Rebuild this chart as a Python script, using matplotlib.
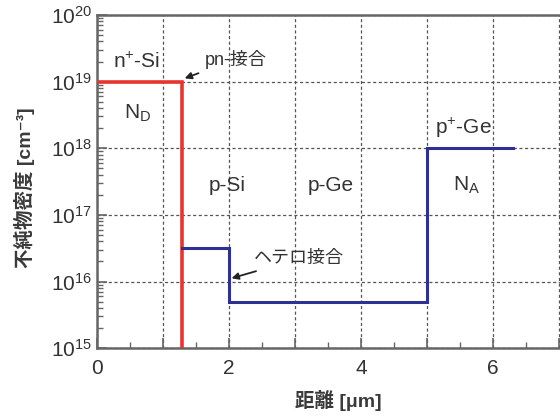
import matplotlib
matplotlib.use("Agg")
import matplotlib.pyplot as plt
from matplotlib.ticker import LogLocator, NullFormatter, MultipleLocator

plt.rcParams['font.family'] = ['Liberation Sans', 'Noto Sans CJK JP', 'DejaVu Sans']
plt.rcParams['mathtext.fontset'] = 'custom'
plt.rcParams['mathtext.rm'] = 'Liberation Sans'
plt.rcParams['mathtext.it'] = 'Liberation Sans:italic'

# data
nd_x = [0, 1.29, 1.29]
nd_y = [1e19, 1e19, 1.05e15]
na_x = [1.29, 2.0, 2.0, 5.0, 5.0, 6.3]
na_y = [3.2e16, 3.2e16, 5e15, 5e15, 1e18, 1e18]
x_major = [0, 1, 2, 3, 4, 5, 6, 7, 8]
x_labels = ['0', '', '2', '', '4', '', '6', '', '']
y_ticks = [1e15, 1e16, 1e17, 1e18, 1e19, 1e20]
y_labels = ['$10^{15}$', '$10^{16}$', '$10^{17}$', '$10^{18}$', '$10^{19}$', '$10^{20}$']

fig = plt.figure(figsize=(5.6, 4.16), dpi=100)
ax = fig.add_axes([0.173, 0.163, 0.943, 0.801])
axc = '#666666'
ax.plot(nd_x, nd_y, color='#e8342c', lw=2.6, solid_joinstyle='miter', zorder=3)
ax.plot(na_x, na_y, color='#2e3192', lw=2.2, solid_joinstyle='miter', zorder=3)

ax.set_yscale('log')
ax.set_xlim(0, 8)
ax.set_ylim(1e15, 1e20)
ax.set_xticks(x_major)
ax.set_xticklabels(x_labels)
ax.xaxis.set_minor_locator(MultipleLocator(0.5))
ax.set_yticks(y_ticks)
ax.set_yticklabels(y_labels)
ax.yaxis.set_minor_locator(LogLocator(base=10, subs=range(2, 10)))
ax.yaxis.set_minor_formatter(NullFormatter())
ax.grid(True, which='major', ls=(0, (2.5, 2)), color='#555555', lw=0.9)
ax.tick_params(which='both', direction='in', colors=axc, labelcolor='#333333', labelsize=15)
ax.tick_params(which='major', length=7, width=1.2)
ax.tick_params(which='minor', length=4, width=1)
ax.tick_params(axis='x', pad=8)
for s in ax.spines.values():
    s.set_color(axc)
    s.set_linewidth(1.8)

tc = '#333333'
fs = 15
ax.text(0.6, 1.95e19, 'n$^{+}$-Si', fontsize=fs, ha='center', va='center', color=tc)
ax.text(0.62, 3.3e18, 'N$_{\\rm D}$', fontsize=fs, ha='center', va='center', color=tc)
ax.text(1.97, 2.8e17, 'p-Si', fontsize=fs, ha='center', va='center', color=tc)
ax.text(3.55, 2.8e17, 'p-Ge', fontsize=fs, ha='center', va='center', color=tc)
ax.text(5.55, 2.0e18, 'p$^{+}$-Ge', fontsize=fs, ha='center', va='center', color=tc)
ax.text(5.6, 2.8e17, 'N$_{\\rm A}$', fontsize=fs, ha='center', va='center', color=tc)
ax.annotate('pn-接合', xy=(1.33, 1.12e19), xytext=(1.63, 2.15e19), fontsize=13,
            ha='left', va='center', color=tc,
            arrowprops=dict(arrowstyle='-|>', color='#222222', lw=1.3,
                            shrinkA=3, shrinkB=0, mutation_scale=10))
ax.annotate('ヘテロ接合', xy=(2.04, 1.12e16), xytext=(2.38, 2.2e16), fontsize=13,
            ha='left', va='center', color=tc,
            arrowprops=dict(arrowstyle='-|>', color='#222222', lw=1.3,
                            shrinkA=3, shrinkB=0, mutation_scale=10))

fig.text(0.043, 0.55, '不純物密度 [cm⁻³]', rotation=90, fontsize=14,
         fontweight='bold', ha='center', va='center', color='#3a3a3a')
fig.text(0.605, 0.038, '距離 [μm]', fontsize=14, fontweight='bold',
         ha='center', va='center', color='#3a3a3a')

fig.savefig('out.png', dpi=100)
